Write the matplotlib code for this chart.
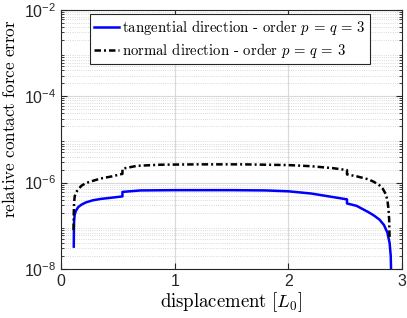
import matplotlib
matplotlib.use("Agg")
import matplotlib.pyplot as plt
from matplotlib.ticker import LogLocator, NullFormatter

plt.rcParams['font.family'] = ['Liberation Sans', 'DejaVu Sans']

# tangential direction - order p = q = 3
x_tan = [0.112, 0.113, 0.115, 0.12, 0.13, 0.15, 0.18, 0.22, 0.28, 0.35, 0.45, 0.540, 0.540,
         0.70, 1.0, 1.5, 1.8, 2.0, 2.2, 2.4, 2.515, 2.515, 2.6, 2.7, 2.75, 2.8, 2.84, 2.87,
         2.89, 2.90, 2.905]
y_tan = [3.3e-8, 8e-8, 1.3e-7, 1.8e-7, 2.2e-7, 2.7e-7, 3.1e-7, 3.5e-7, 3.9e-7, 4.2e-7, 4.5e-7, 4.8e-7, 6.1e-7,
         6.6e-7, 6.7e-7, 6.7e-7, 6.6e-7, 6.3e-7, 5.6e-7, 4.6e-7, 4.1e-7, 3.3e-7, 2.9e-7, 2.1e-7, 1.75e-7, 1.4e-7, 1.05e-7, 7e-8,
         4e-8, 2e-8, 5e-9]

# normal direction - order p = q = 3
x_nor = [0.110, 0.112, 0.115, 0.12, 0.13, 0.15, 0.18, 0.22, 0.28, 0.35, 0.45, 0.540, 0.540,
         0.668, 0.874, 1.2, 1.6, 2.0, 2.2, 2.4, 2.515, 2.515, 2.6, 2.7, 2.75, 2.8, 2.83, 2.855,
         2.87, 2.88, 2.886, 2.89]
y_nor = [8.0e-8, 2e-7, 3.5e-7, 4.8e-7, 5.8e-7, 7e-7, 8.5e-7, 9.8e-7, 1.1e-6, 1.25e-6, 1.4e-6, 1.6e-6, 2.1e-6,
         2.45e-6, 2.6e-6, 2.65e-6, 2.65e-6, 2.55e-6, 2.4e-6, 2.15e-6, 1.95e-6, 1.55e-6, 1.4e-6, 1.2e-6, 1.05e-6, 8.7e-7, 7.2e-7, 5.5e-7,
         4e-7, 2.5e-7, 1.4e-7, 4.7e-8]

fig = plt.figure(figsize=(4.07, 3.18), dpi=100)
ax = fig.add_axes([0.150, 0.154, 0.838, 0.815])

ax.plot(x_tan, y_tan, '-', color='#0000ff', lw=1.8,
        label=r'tangential direction - order $p\,=\,q\,=\,3$')
ax.plot(x_nor, y_nor, ls=(0, (2.6, 1.2, 0.8, 1.2)), color='black', lw=1.8,
        label=r'normal direction - order $p\,=\,q\,=\,3$')

ax.set_yscale('log')
ax.set_xlim(0, 3)
ax.set_ylim(1e-8, 1e-2)
ax.set_xticks([0, 1, 2, 3])
ax.set_yticks([1e-8, 1e-6, 1e-4, 1e-2])
ax.yaxis.set_minor_locator(LogLocator(base=10, subs=range(2, 10), numticks=20))
ax.yaxis.set_minor_formatter(NullFormatter())

ax.grid(True, which='major', color='0.85', lw=0.8)
ax.grid(True, which='minor', axis='y', color='0.8', lw=0.6, ls=':')
ax.set_axisbelow(True)

for s in ax.spines.values():
    s.set_color('0.15')
    s.set_linewidth(0.8)
ax.tick_params(which='both', direction='in', top=True, right=True, colors='0.15',
               labelsize=11.5, labelcolor='0.15')
ax.tick_params(which='major', length=4)
ax.tick_params(which='minor', length=2)

ax.set_xlabel(r'$\mathrm{displacement}\ [L_0]$', fontsize=13.5, math_fontfamily='cm', labelpad=1)
ax.set_ylabel(r'$\mathrm{relative\ contact\ force\ error}$', fontsize=12.3, math_fontfamily='cm')
ax.yaxis.set_label_coords(-0.125, 0.58)

leg = ax.legend(loc='upper left', bbox_to_anchor=(0.085, 0.985), fancybox=False,
                edgecolor='0.15', framealpha=1, handlelength=1.7, handletextpad=0.2,
                borderpad=0.3, labelspacing=0.25, borderaxespad=0,
                prop={'family': 'cmr10', 'size': 10.6, 'math_fontfamily': 'cm'})
leg.get_frame().set_linewidth(0.8)

fig.savefig('out.png', dpi=100)
